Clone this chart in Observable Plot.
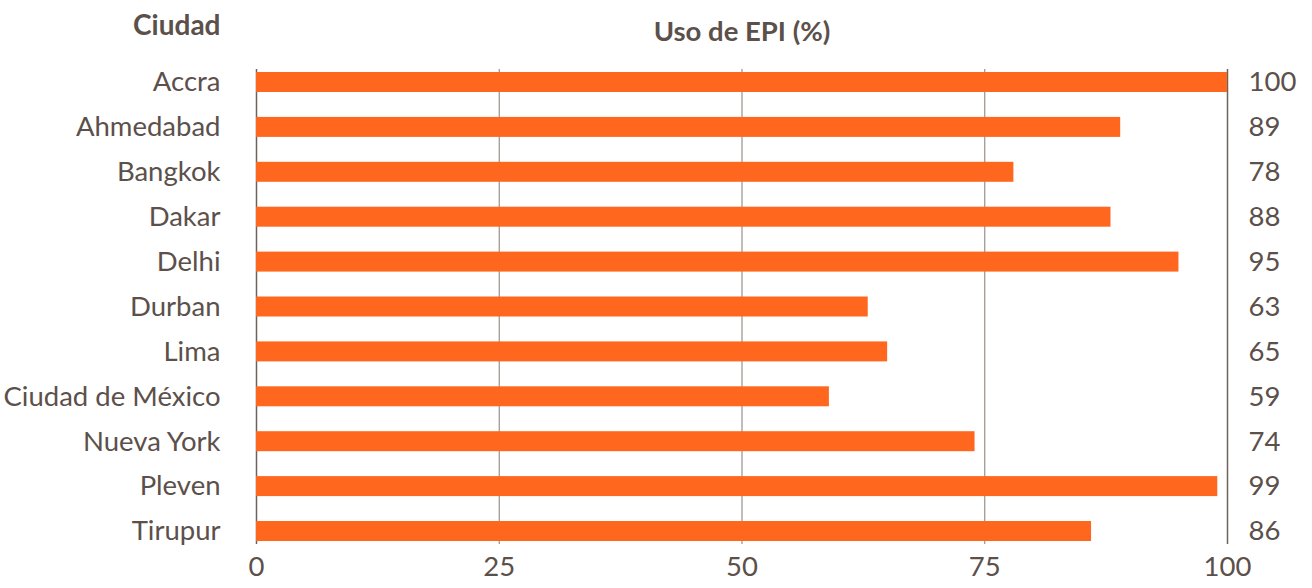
<!DOCTYPE html>
<html>
<head>
<meta charset="utf-8">
<script src="https://cdn.jsdelivr.net/npm/d3@7"></script>
<script src="https://cdn.jsdelivr.net/npm/@observablehq/plot@0.6"></script>
<style>
  html, body { margin: 0; padding: 0; background: #fff; }
  #chart svg { display: block; }
</style>
</head>
<body>
<div id="chart"></div>
<script>
const cities = ["Accra", "Ahmedabad", "Bangkok", "Dakar", "Delhi", "Durban", "Lima", "Ciudad de México", "Nueva York", "Pleven", "Tirupur"];
const values = [100, 89, 78, 88, 95, 63, 65, 59, 74, 99, 86];
const xTicks = [0, 25, 50, 75, 100];
const innerGrid = [25, 50, 75];
const edgeGrid = [0, 100];
const headerCity = "Ciudad";
const headerValue = "Uso de EPI (%)";

const data = cities.map((c, i) => ({city: c, value: values[i]}));
const textColor = "#5c504b";
const barColor = "#ff671f";
const fs = 27.5;

const chart = Plot.plot({
  width: 1312,
  height: 588,
  marginLeft: 256,
  marginRight: 85,
  marginTop: 69,
  marginBottom: 44,
  style: {fontFamily: "Lato, sans-serif", fontSize: fs + "px", color: textColor, background: "#fff"},
  x: {domain: [0, 100], axis: null, label: null},
  y: {domain: cities, paddingInner: 0.555, paddingOuter: 0.067, round: false, axis: null},
  marks: [
    Plot.ruleX(innerGrid, {stroke: "#9a908a", strokeWidth: 1.2}),
    Plot.ruleX(edgeGrid, {stroke: "#6e625c", strokeWidth: 1.5}),
    Plot.barX(data, {x: "value", y: "city", fill: barColor}),
    Plot.text(data, {x: 0, y: "city", text: "city", textAnchor: "end", dx: -36, fill: textColor, fontSize: fs}),
    Plot.text(data, {x: 100, y: "city", text: d => String(d.value), textAnchor: "start", dx: 21, fill: textColor, fontSize: fs}),
    Plot.axisX(xTicks, {tickSize: 0, tickPadding: 12, fontSize: fs, fill: textColor, label: null, tickFormat: d => String(d)}),
    Plot.text([headerCity], {frameAnchor: "top-left", dx: -36, dy: -54, textAnchor: "end", lineAnchor: "top", fontWeight: "bold", fontSize: 28, fill: textColor}),
    Plot.text([headerValue], {frameAnchor: "top", dy: -48, lineAnchor: "top", fontWeight: "bold", fontSize: 27.5, fill: textColor})
  ]
});
document.getElementById("chart").appendChild(chart);
</script>
</body>
</html>
